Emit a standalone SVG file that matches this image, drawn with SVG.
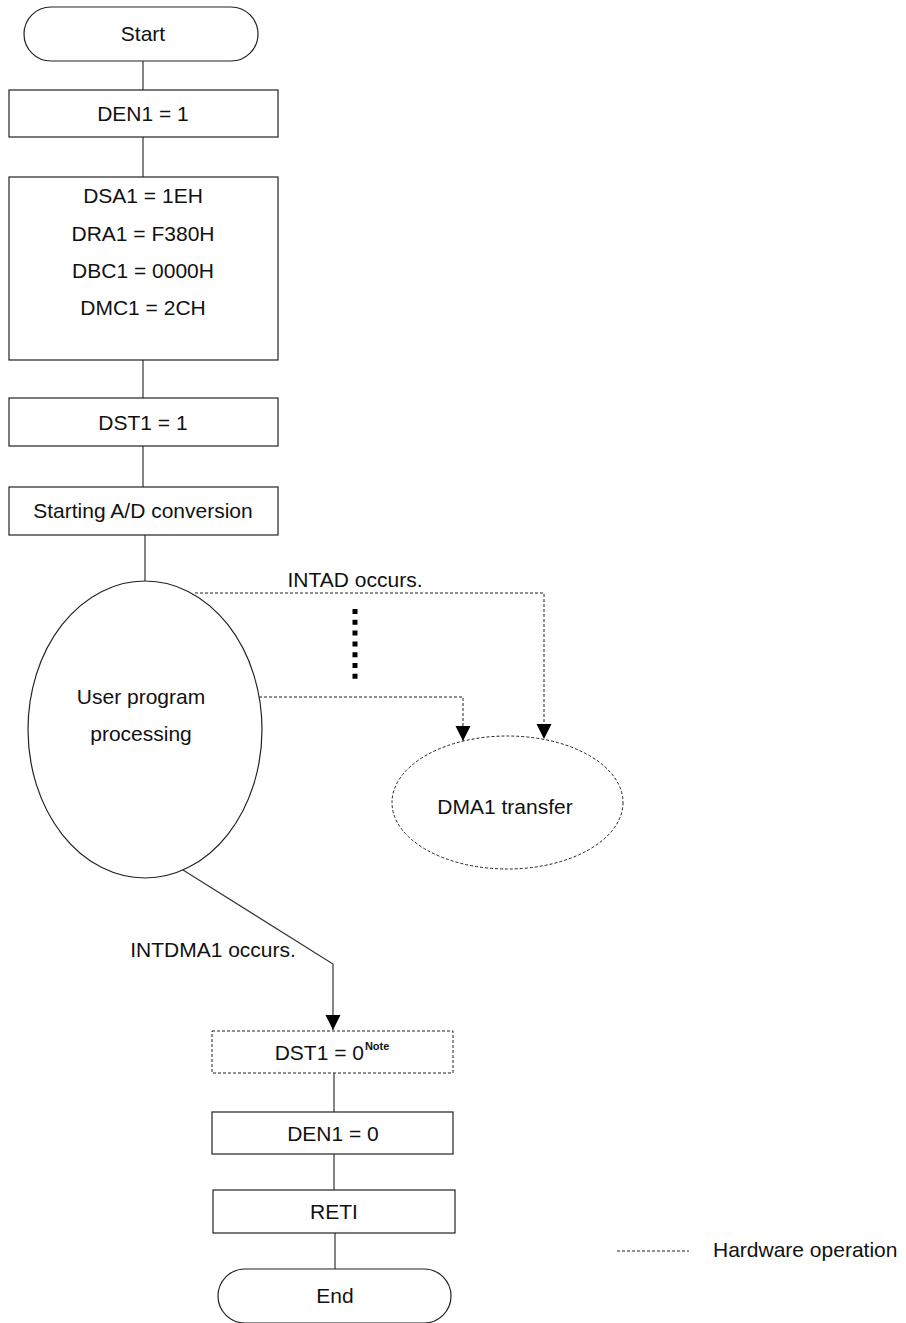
<svg xmlns="http://www.w3.org/2000/svg" width="906" height="1323" viewBox="0 0 906 1323">
<style>
.shape{fill:#fff;stroke:#222;stroke-width:1.2}
.hw{fill:none;stroke:#222;stroke-width:1;stroke-dasharray:3 2}
.ln{fill:none;stroke:#333;stroke-width:1.2}
text{font-family:"Liberation Sans",Arial,sans-serif;font-size:21px;fill:#111;text-anchor:middle}
.sup{font-size:11px;font-weight:bold}
</style>
<defs>
<marker id="ah" markerWidth="16" markerHeight="16" refX="15" refY="7.5" orient="auto" markerUnits="userSpaceOnUse" viewBox="0 0 16 16">
<path d="M0,0 L15,7.5 L0,15 Z" fill="#000"/>
</marker>
</defs>
<g id="connectors">
<line class="ln" x1="143" y1="61" x2="143" y2="90"/>
<line class="ln" x1="143" y1="137" x2="143" y2="177"/>
<line class="ln" x1="143" y1="360" x2="143" y2="398"/>
<line class="ln" x1="143" y1="446" x2="143" y2="487"/>
<line class="ln" x1="145" y1="535" x2="145" y2="581"/>
<polyline class="hw" points="195,593 544,593 544,739" marker-end="url(#ah)"/>
<polyline class="hw" points="259,697 463,697 463,741" marker-end="url(#ah)"/>
<line x1="355" y1="609" x2="355" y2="679" stroke="#000" stroke-width="5" stroke-dasharray="5 5.8"/>
<polyline class="ln" points="183,870 333,964 333,1030" marker-end="url(#ah)"/>
<line class="ln" x1="334" y1="1073" x2="334" y2="1112"/>
<line class="ln" x1="334" y1="1154" x2="334" y2="1190"/>
<line class="ln" x1="335" y1="1233" x2="335" y2="1269"/>
</g>
<text x="355" y="587">INTAD occurs.</text>
<text x="213" y="957">INTDMA1 occurs.</text>
<g id="start">
<rect class="shape" x="24" y="7" width="234" height="54" rx="27" ry="27"/>
<text x="143" y="41">Start</text>
</g>
<g id="den1-1">
<rect class="shape" x="9" y="90" width="269" height="47"/>
<text x="143" y="121">DEN1 = 1</text>
</g>
<g id="init">
<rect class="shape" x="9" y="177" width="269" height="183"/>
<text x="143" y="203">DSA1 = 1EH</text>
<text x="143" y="241">DRA1 = F380H</text>
<text x="143" y="278">DBC1 = 0000H</text>
<text x="143" y="315">DMC1 = 2CH</text>
</g>
<g id="dst1-1">
<rect class="shape" x="9" y="398" width="269" height="48"/>
<text x="143" y="430">DST1 = 1</text>
</g>
<g id="start-ad">
<rect class="shape" x="9" y="487" width="269" height="48"/>
<text x="143" y="518">Starting A/D conversion</text>
</g>
<g id="user">
<ellipse class="shape" cx="145" cy="729.5" rx="117" ry="148.5"/>
<text x="141" y="704">User program</text>
<text x="141" y="741">processing</text>
</g>
<g id="dma1">
<ellipse class="hw" cx="507.5" cy="802.5" rx="115.5" ry="66.5"/>
<text x="505" y="814">DMA1 transfer</text>
</g>
<g id="dst1-0">
<rect class="hw" x="212" y="1031" width="241" height="42"/>
<text x="332" y="1060">DST1 = 0<tspan class="sup" dy="-10" dx="1">Note</tspan></text>
</g>
<g id="den1-0">
<rect class="shape" x="212" y="1112" width="241" height="42"/>
<text x="333" y="1141">DEN1 = 0</text>
</g>
<g id="reti">
<rect class="shape" x="213" y="1190" width="242" height="43"/>
<text x="334" y="1219">RETI</text>
</g>
<g id="end">
<rect class="shape" x="218" y="1269" width="233" height="54" rx="27" ry="27"/>
<text x="335" y="1303">End</text>
</g>
<g id="legend">
<line class="hw" x1="617" y1="1251" x2="689" y2="1251"/>
<text x="713" y="1257" style="text-anchor:start">Hardware operation</text>
</g>
</svg>
